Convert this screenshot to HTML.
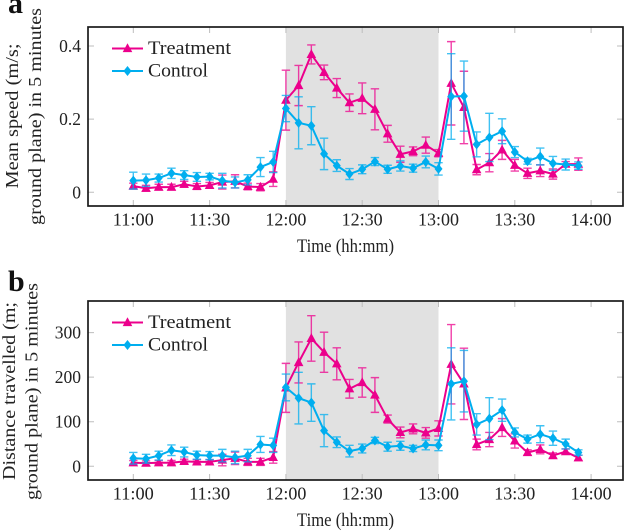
<!DOCTYPE html>
<html lang="en">
<head>
<meta charset="utf-8">
<title>Mean speed and distance travelled</title>
<style>
html,body{margin:0;padding:0;background:#fff;width:625px;height:532px;overflow:hidden}
svg{display:block}
text{font-family:"Liberation Serif",serif;fill:#222}
</style>
</head>
<body>
<svg id="figure" width="625" height="532" viewBox="0 0 625 532" xmlns="http://www.w3.org/2000/svg"></svg>
<script>
const times = ['11:00','11:05','11:10','11:15','11:20','11:25','11:30','11:35','11:40','11:45','11:50','11:55','12:00','12:05','12:10','12:15','12:20','12:25','12:30','12:35','12:40','12:45','12:50','12:55','13:00','13:05','13:10','13:15','13:20','13:25','13:30','13:35','13:40','13:45','13:50','13:55'];
const xTickLabels = ['11:00','11:30','12:00','12:30','13:00','13:30','14:00'];
const shadedPeriod = ['12:00','13:00'];

const speedTicks = [0,0.2,0.4];
const speedTickLabels = ['0','0.2','0.4'];
const speedTreatment = [.017,.011,.014,.014,.022,.016,.019,.028,.030,.016,.014,.036,.252,.292,.377,.328,.285,.245,.257,.227,.160,.104,.112,.129,.107,.298,.232,.062,.081,.116,.074,.052,.059,.050,.077,.077];
const speedTreatmentErr = [.008,.008,.008,.008,.008,.008,.008,.019,.018,.009,.010,.020,.082,.055,.026,.020,.026,.024,.042,.056,.023,.022,.012,.022,.010,.114,.099,.014,.025,.026,.016,.014,.016,.014,.007,.017];
const speedControl = [.032,.033,.039,.052,.047,.042,.043,.032,.027,.034,.069,.083,.229,.190,.182,.105,.073,.050,.063,.084,.063,.072,.066,.083,.064,.262,.263,.131,.150,.167,.110,.085,.098,.079,.076,.073];
const speedControlErr = [.023,.017,.011,.014,.012,.012,.009,.020,.015,.014,.026,.029,.036,.071,.052,.043,.016,.015,.012,.011,.011,.014,.011,.016,.017,.117,.096,.034,.066,.034,.015,.008,.023,.019,.015,.010];

const distTicks = [0,100,200,300];
const distTickLabels = ['0','100','200','300'];
const distTreatment = [8,7,8,8,11,10,10,14,18,10,10,20,176,233,287,256,230,174,188,160,106,76,84,75,85,229,185,49,60,87,57,31,38,24,33,19];
const distTreatmentErr = [5,5,5,5,5,5,5,13,14,8,8,13,55,46,51,45,36,21,33,39,9,12,11,12,17,89,80,12,16,20,16,6,10,6,6,6];
const distControl = [18,17,24,36,32,25,24,24,20,24,49,47,177,153,143,80,54,34,40,58,44,46,40,48,47,185,191,94,107,126,76,61,72,63,50,31];
const distControlErr = [13,10,10,12,11,9,9,14,14,14,18,16,30,58,42,36,12,13,10,7,10,10,7,11,12,81,69,24,47,25,10,9,19,16,11,6];

const PINK = '#ec008c';
const BLUE = '#00aeef';
const svg = document.getElementById('figure');
const NS = 'http://www.w3.org/2000/svg';

function make(tag, attrs, parent, txt){
  const el = document.createElementNS(NS, tag);
  for (const k in attrs) el.setAttribute(k, attrs[k]);
  if (txt !== undefined) el.textContent = txt;
  (parent || svg).appendChild(el);
  return el;
}
function minutes(t){
  const p = t.split(':');
  return (+p[0]) * 60 + (+p[1]);
}
function xScale(t){
  return 133.3 + (minutes(t) - 660) * (76.3 / 30);
}
function triangle(cx, cy, r){
  return (cx) + ',' + (cy - r * 1.1) + ' ' + (cx - r) + ',' + (cy + r * 0.75) + ' ' + (cx + r) + ',' + (cy + r * 0.75);
}
function diamond(cx, cy, r){
  return cx + ',' + (cy - r) + ' ' + (cx + r * 0.8) + ',' + cy + ' ' + cx + ',' + (cy + r) + ' ' + (cx - r * 0.8) + ',' + cy;
}

function drawSeries(g, values, errs, yScale, color, kind){
  const sg = make('g', {}, g);
  
  
  values.forEach(function(v, i){
    const x = xScale(times[i]);
    const hi = yScale(v + errs[i]);
    const lo = yScale(v - errs[i]);
    const eb = make('path', {d:'M'+x+' '+hi+'V'+lo+'M'+(x-4.2)+' '+hi+'H'+(x+4.2)+'M'+(x-4.2)+' '+lo+'H'+(x+4.2), fill:'none', stroke:color, 'stroke-width':1.4, 'stroke-opacity':0.75}, sg);
    
    
  });
  const pts = values.map(function(v, i){ return xScale(times[i]) + ',' + yScale(v); }).join(' ');
  const line = make('polyline', {points:pts, fill:'none', stroke:color, 'stroke-width':2, 'stroke-linejoin':'round'}, sg);
  
  
  values.forEach(function(v, i){
    const x = xScale(times[i]);
    const y = yScale(v);
    const m = make('polygon', {points: kind === 'triangle' ? triangle(x, y, 4.8) : diamond(x, y, 5), fill:color}, sg);
    
    
  });
}

function drawPanel(o){
  const left = 88, right = 623;
  const g = make('g', {});
  
  

  const shade = make('rect', {x:xScale(shadedPeriod[0]), y:o.top, width:xScale(shadedPeriod[1]) - xScale(shadedPeriod[0]), height:o.bottom - o.top, fill:'#e1e1e1'}, g);
  
  

  const TICK = '#bdbdbd';
  xTickLabels.forEach(function(lab){
    const x = xScale(lab);
    const t = make('path', {d:'M'+x+' '+o.bottom+'v-6M'+x+' '+o.top+'v6', stroke:TICK, 'stroke-width':1, fill:'none'}, g);
    
    
    const l = make('text', {x:x, y:o.bottom + 19.5, 'text-anchor':'middle', 'font-size':17.5, textLength:41, lengthAdjust:'spacingAndGlyphs'}, g, lab);
    
    
  });
  o.ticks.forEach(function(v, i){
    const y = o.yScale(v);
    const t = make('path', {d:'M'+left+' '+y+'h6M'+right+' '+y+'h-6', stroke:TICK, 'stroke-width':1, fill:'none'}, g);
    
    
    const l = make('text', {x:81, y:y + 6, 'text-anchor':'end', 'font-size':17.5}, g, o.tickLabels[i]);
    
    
  });

  drawSeries(g, o.treatment, o.treatmentErr, o.yScale, PINK, 'triangle');
  drawSeries(g, o.control, o.controlErr, o.yScale, BLUE, 'diamond');

  const frame = make('rect', {x:left, y:o.top, width:right - left, height:o.bottom - o.top, fill:'none', stroke:'#1a1a1a', 'stroke-width':1.7}, g);
  
  

  const leg = make('g', {}, g);
  
  
  const ly1 = o.top + 21.5, ly2 = o.top + 44;
  const e1 = make('g', {}, leg);
  
  
  make('path', {d:'M112 '+ly1+'H143', stroke:PINK, 'stroke-width':2}, e1);
  make('polygon', {points:triangle(127.5, ly1, 4.8), fill:PINK}, e1);
  make('text', {x:148, y:ly1 + 5.5, 'font-size':18.5, textLength:83, lengthAdjust:'spacingAndGlyphs'}, e1, 'Treatment');
  const e2 = make('g', {}, leg);
  
  
  make('path', {d:'M112 '+ly2+'H143', stroke:BLUE, 'stroke-width':2}, e2);
  make('polygon', {points:diamond(127.5, ly2, 5), fill:BLUE}, e2);
  make('text', {x:148, y:ly2 + 5.5, 'font-size':18.5, textLength:60, lengthAdjust:'spacingAndGlyphs'}, e2, 'Control');

  const xt = make('text', {x:345.5, y:o.bottom + 46, 'text-anchor':'middle', 'font-size':18.5, textLength:97, lengthAdjust:'spacingAndGlyphs'}, g, 'Time (hh:mm)');
  
  

  o.titleLines.forEach(function(tl){
    const t = make('text', {transform:'translate('+tl.x+','+tl.cy+') rotate(-90)', 'text-anchor':'middle', 'font-size':18, textLength:tl.len, lengthAdjust:'spacingAndGlyphs'}, g, tl.text);
    
    
  });

  const letter = make('text', {x:o.letterX, y:o.letterY, 'font-size':30, 'font-weight':'bold', style:'fill:#111'}, g, o.letter);
  
  
}

drawPanel({
  name:'speed-panel', top:27, bottom:206,
  yScale:function(v){ return 192.3 - v * 365.7; },
  ticks:speedTicks, tickLabels:speedTickLabels,
  treatment:speedTreatment, treatmentErr:speedTreatmentErr,
  control:speedControl, controlErr:speedControlErr,
  titleLines:[
    {text:'Mean speed (m/s;', x:18, cy:116, len:145},
    {text:'ground plane) in 5 minutes', x:41, cy:116.5, len:217}
  ],
  letter:'a', letterX:8, letterY:13
});
drawPanel({
  name:'distance-panel', top:301, bottom:480,
  yScale:function(v){ return 466.3 - v * 0.4456; },
  ticks:distTicks, tickLabels:distTickLabels,
  treatment:distTreatment, treatmentErr:distTreatmentErr,
  control:distControl, controlErr:distControlErr,
  titleLines:[
    {text:'Distance travelled (m;', x:15, cy:391, len:178},
    {text:'ground plane) in 5 minutes', x:37.5, cy:391.5, len:217}
  ],
  letter:'b', letterX:8, letterY:291
});
</script>
</body>
</html>
